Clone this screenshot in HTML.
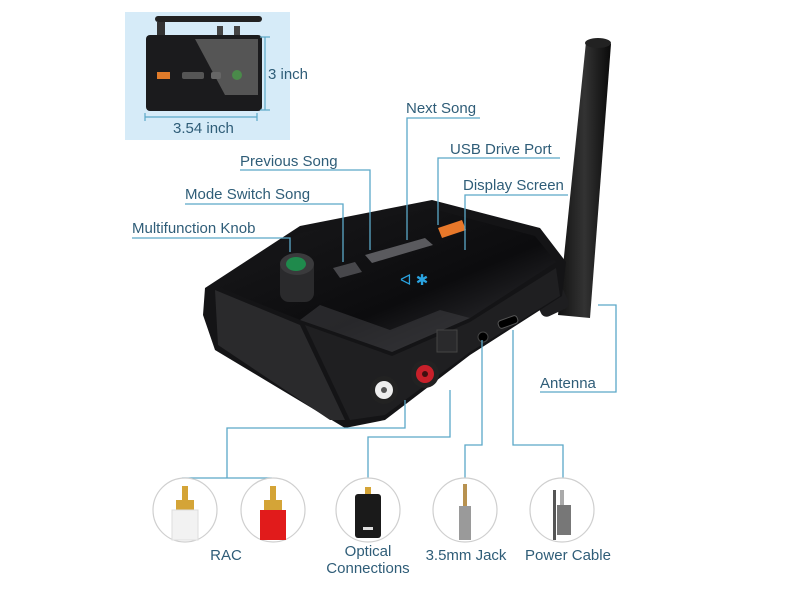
<!DOCTYPE html>
<html><head><meta charset="utf-8"><style>
html,body{margin:0;padding:0;background:#fff;}
svg{display:block}
text{font-family:"Liberation Sans",Arial,sans-serif;fill:#2f5d78;font-size:15px}
</style></head><body>
<svg width="800" height="600" viewBox="0 0 800 600" xmlns="http://www.w3.org/2000/svg">
<defs>
<linearGradient id="top" x1="0" y1="0" x2="1" y2="1">
<stop offset="0" stop-color="#1a1a1c"/><stop offset="0.6" stop-color="#0c0c0e"/><stop offset="1" stop-color="#3a3a3e"/></linearGradient>
<linearGradient id="ant" x1="0" y1="0" x2="1" y2="0">
<stop offset="0" stop-color="#111"/><stop offset="0.5" stop-color="#333"/><stop offset="1" stop-color="#0a0a0a"/></linearGradient>
</defs>
<rect width="800" height="600" fill="#fff"/>
<!-- inset -->
<rect x="125" y="12" width="165" height="128" fill="#d6ebf8"/>
<rect x="155" y="16" width="107" height="6" rx="3" fill="#222"/>
<rect x="157" y="22" width="8" height="14" fill="#333"/>
<rect x="217" y="26" width="6" height="10" fill="#444"/><rect x="234" y="26" width="6" height="10" fill="#444"/>
<rect x="146" y="35" width="116" height="76" rx="4" fill="#1b1b1d"/>
<polygon points="195,39 258,39 258,95 225,95" fill="#555"/>
<rect x="157" y="72" width="13" height="7" fill="#e07b2a"/>
<rect x="182" y="72" width="22" height="7" rx="2" fill="#555"/>
<rect x="211" y="72" width="10" height="7" rx="2" fill="#666"/>
<circle cx="237" cy="75" r="5" fill="#4a8a4a"/>
<g stroke="#5ba8c8" stroke-width="1.2" fill="none">
<line x1="265" y1="37" x2="265" y2="110"/><line x1="260" y1="37" x2="270" y2="37"/><line x1="260" y1="110" x2="270" y2="110"/>
<line x1="145" y1="117" x2="257" y2="117"/><line x1="145" y1="113" x2="145" y2="121"/><line x1="257" y1="113" x2="257" y2="121"/>
</g>
<text x="268" y="79" font-size="14">3 inch</text>
<text x="173" y="133" font-size="14">3.54 inch</text>

<!-- antenna -->
<polygon points="586,42 611,44 590,318 558,315" fill="url(#ant)"/>
<ellipse cx="598" cy="43" rx="13" ry="5" fill="#222"/>
<rect x="535" y="280" width="30" height="34" rx="6" fill="#1e1e20" transform="rotate(-25 550 297)"/>

<!-- device body -->
<polygon points="205,288 300,226 432,200 540,228 566,262 562,296 470,355 385,420 345,428 215,350 203,315" fill="#141416"/>
<polygon points="215,286 300,233 430,208 535,236 556,262 470,318 392,352 300,320" fill="url(#top)"/>
<polygon points="300,320 392,352 470,318 440,310 390,330 320,305" fill="#3a3a3e" opacity="0.6"/>
<polygon points="215,290 300,325 345,420 330,420 218,345" fill="#2a2a2c"/>
<polygon points="305,325 392,356 470,322 556,268 560,296 470,352 385,415 350,420" fill="#1f1f21"/>
<!-- buttons/screen -->
<polygon points="365,255 425,238 433,245 372,263" fill="#5a5a5e"/>
<polygon points="333,268 355,262 362,272 340,278" fill="#47474b"/>
<polygon points="438,228 462,220 466,230 442,238" fill="#e8782a"/>
<text x="400" y="285" font-size="9" style="fill:#2aa3e0">ᐊ ✱</text>
<!-- knob -->
<rect x="280" y="258" width="34" height="44" rx="9" fill="#2a2a2c"/>
<ellipse cx="297" cy="264" rx="17" ry="11" fill="#3a3a3c"/>
<ellipse cx="296" cy="264" rx="10" ry="7" fill="#1f8a4c"/>
<!-- ports -->
<circle cx="384" cy="390" r="14" fill="#222"/><circle cx="384" cy="390" r="9" fill="#eee"/><circle cx="384" cy="390" r="3" fill="#555"/>
<circle cx="425" cy="374" r="14" fill="#222"/><circle cx="425" cy="374" r="9" fill="#c8202a"/><circle cx="425" cy="374" r="3" fill="#401010"/>
<rect x="437" y="330" width="20" height="22" fill="#2a2a2c" stroke="#444"/>
<circle cx="483" cy="337" r="5" fill="#000" stroke="#444"/>
<rect x="498" y="318" width="20" height="8" rx="3" fill="#000" stroke="#555" transform="rotate(-20 508 322)"/>

<!-- leader lines -->
<g stroke="#5ba8c8" stroke-width="1.3" fill="none">
<polyline points="132,238 290,238 290,252"/>
<polyline points="185,204 343,204 343,262"/>
<polyline points="240,170 370,170 370,250"/>
<polyline points="480,118 407,118 407,240"/>
<polyline points="560,158 438,158 438,225"/>
<polyline points="568,195 465,195 465,250"/>
<polyline points="540,392 616,392 616,305 598,305"/>
<polyline points="405,400 405,428 227,428 227,478"/>
<line x1="182" y1="478" x2="272" y2="478"/>
<polyline points="450,390 450,437 368,437 368,478"/>
<polyline points="482,340 482,445 465,445 465,478"/>
<polyline points="513,330 513,445 563,445 563,478"/>
</g>
<text x="406" y="113">Next Song</text>
<text x="450" y="154">USB Drive Port</text>
<text x="240" y="166">Previous Song</text>
<text x="463" y="190">Display Screen</text>
<text x="185" y="199">Mode Switch Song</text>
<text x="132" y="233">Multifunction Knob</text>
<text x="540" y="388">Antenna</text>

<!-- bottom icons -->
<g fill="#fff" stroke="#cfcfcf" stroke-width="1.2">
<circle cx="185" cy="510" r="32"/><circle cx="273" cy="510" r="32"/>
<circle cx="368" cy="510" r="32"/><circle cx="465" cy="510" r="32"/><circle cx="562" cy="510" r="32"/>
</g>
<rect x="182" y="486" width="6" height="16" fill="#d4a437"/><rect x="176" y="500" width="18" height="10" fill="#d4a437"/>
<rect x="172" y="510" width="26" height="30" fill="#f2f2f2" stroke="#ddd"/>
<rect x="270" y="486" width="6" height="16" fill="#d4a437"/><rect x="264" y="500" width="18" height="10" fill="#d4a437"/>
<rect x="260" y="510" width="26" height="30" fill="#e11b1b"/>
<rect x="365" y="487" width="6" height="8" fill="#d4a437"/>
<rect x="355" y="494" width="26" height="44" rx="3" fill="#1a1a1a"/>
<rect x="363" y="527" width="10" height="3" fill="#ddd"/>
<rect x="463" y="484" width="4" height="22" fill="#b89250"/>
<rect x="459" y="506" width="12" height="34" fill="#9a9a9a"/>
<rect x="553" y="490" width="3" height="50" fill="#555"/>
<rect x="557" y="505" width="14" height="30" fill="#777"/>
<rect x="560" y="490" width="4" height="15" fill="#aaa"/>
<text x="226" y="560" text-anchor="middle">RAC</text>
<text x="368" y="556" text-anchor="middle">Optical</text>
<text x="368" y="573" text-anchor="middle">Connections</text>
<text x="466" y="560" text-anchor="middle">3.5mm Jack</text>
<text x="568" y="560" text-anchor="middle">Power Cable</text>
</svg>
</body></html>
